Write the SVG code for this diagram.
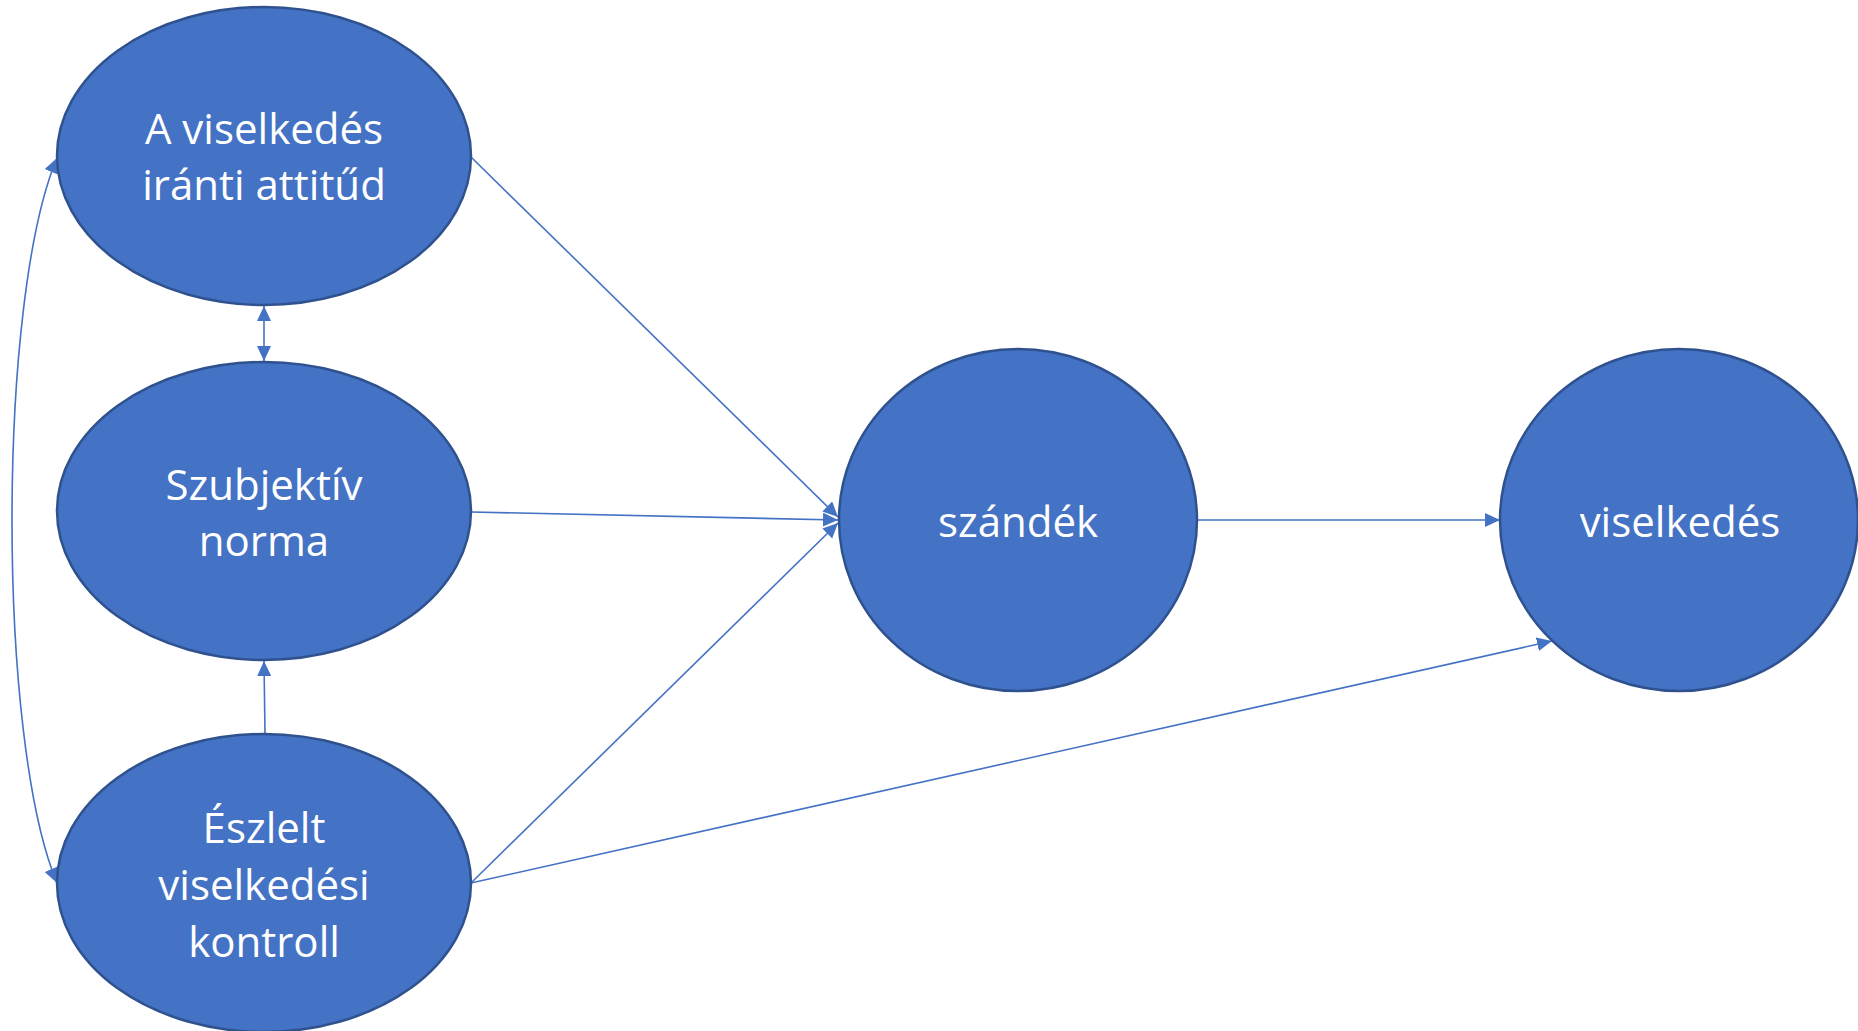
<svg xmlns="http://www.w3.org/2000/svg" width="1858" height="1031" viewBox="0 0 1858 1031">
<style>
.node{fill:#4472C4;stroke:#2F528F;stroke-width:2.5}
.lbl{font-family:"Open Sans","Noto Sans",sans-serif;font-size:42px;fill:#ffffff;text-anchor:middle}
.edge{fill:none;stroke:#4472C4;stroke-width:1.6}
</style>
<defs>
<marker id="arr" markerUnits="userSpaceOnUse" markerWidth="16" markerHeight="16" refX="15" refY="7" orient="auto">
<path d="M0,0 L15,7 L0,14 z" fill="#4472C4"/>
</marker>
<marker id="arrs" markerUnits="userSpaceOnUse" markerWidth="16" markerHeight="16" refX="15" refY="7" orient="auto-start-reverse">
<path d="M0,0 L15,7 L0,14 z" fill="#4472C4"/>
</marker>
</defs>
<rect width="1858" height="1031" fill="#ffffff"/>
<g id="connectors">
<line class="edge" x1="471" y1="157" x2="838" y2="517" marker-end="url(#arr)"/>
<line class="edge" x1="471" y1="512" x2="838" y2="520" marker-end="url(#arr)"/>
<line class="edge" x1="471" y1="883" x2="838" y2="523" marker-end="url(#arr)"/>
<line class="edge" x1="471" y1="883" x2="1552" y2="641" marker-end="url(#arr)"/>
<line class="edge" x1="1197" y1="520" x2="1500" y2="520" marker-end="url(#arr)"/>
<line class="edge" x1="264" y1="306" x2="264" y2="361" marker-start="url(#arrs)" marker-end="url(#arrs)"/>
<line class="edge" x1="265" y1="734" x2="264" y2="661" marker-end="url(#arr)"/>
<path class="edge" d="M57,158 C-3,300 -3,740 57,883" marker-start="url(#arrs)" marker-end="url(#arrs)"/>
</g>
<g id="attitud">
<ellipse class="node" cx="264" cy="156" rx="207" ry="149"/>
<text class="lbl" x="264" y="144">A viselkedés</text>
<text class="lbl" x="264" y="200">iránti attitűd</text>
</g>
<g id="norma">
<ellipse class="node" cx="264" cy="511" rx="207" ry="149"/>
<text class="lbl" x="264" y="500">Szubjektív</text>
<text class="lbl" x="264" y="556">norma</text>
</g>
<g id="kontroll">
<ellipse class="node" cx="264" cy="883" rx="207" ry="149"/>
<text class="lbl" x="264" y="843">Észlelt</text>
<text class="lbl" x="264" y="900">viselkedési</text>
<text class="lbl" x="264" y="957">kontroll</text>
</g>
<g id="szandek">
<ellipse class="node" cx="1018" cy="520" rx="179" ry="171"/>
<text class="lbl" x="1018" y="537">szándék</text>
</g>
<g id="viselkedes">
<ellipse class="node" cx="1679" cy="520" rx="179" ry="171"/>
<text class="lbl" x="1680" y="537">viselkedés</text>
</g>
</svg>
